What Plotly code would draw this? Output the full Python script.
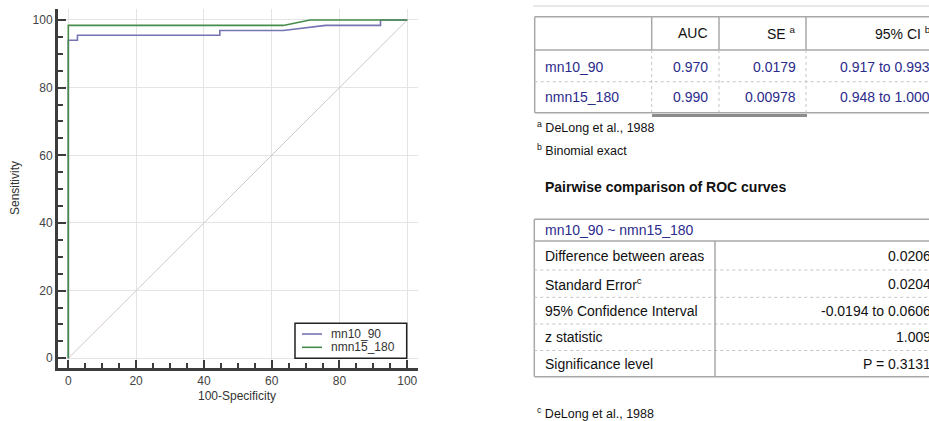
import plotly.graph_objects as go

W, H = 929, 421

# ---------------- data ----------------
diag_x = [0, 100]
diag_y = [0, 100]

series_names = ["mn10_90", "nmn15_180"]

mn10_fpr = [0, 0, 2.7, 2.7, 44.7, 44.7, 63.4, 75.9, 92.1, 92.1, 100]
mn10_sens = [0, 94.0, 94.0, 95.5, 95.5, 96.9, 96.9, 98.4, 98.4, 100, 100]

nmn15_fpr = [0, 0, 63.4, 71.3, 100]
nmn15_sens = [0, 98.4, 98.4, 100, 100]

axis_ticks = [0, 20, 40, 60, 80, 100]

t1_header = ["", "AUC", "SE <sup>a</sup>", "95% CI <sup>b</sup>"]
t1_rows = ["mn10_90", "nmn15_180"]
t1_auc = ["0.970", "0.990"]
t1_se = ["0.0179", "0.00978"]
t1_ci = ["0.917 to 0.993", "0.948 to 1.000"]
t1_notes = ["<sup>a</sup> DeLong et al., 1988", "<sup>b</sup> Binomial exact"]

t2_title = "Pairwise comparison of ROC curves"
t2_head = "mn10_90 ~ nmn15_180"
t2_labels = ["Difference between areas", "Standard Error<sup>c</sup>",
             "95% Confidence Interval", "z statistic", "Significance level"]
t2_values = ["0.0206", "0.0204", "-0.0194 to 0.0606", "1.009", "P = 0.3131"]
t2_note = "<sup>c</sup> DeLong et al., 1988"

FONT = "Liberation Sans, Arial, sans-serif"
BLUE = "#2b2b8c"
PURPLE = "#7474b4"
GREEN = "#468c4a"
AX = "#3c3c3c"


def px(x):
    return x / W


def py(y):
    return 1 - y / H


fig = go.Figure()
fig.add_trace(go.Scatter(x=diag_x, y=diag_y, mode="lines", showlegend=False,
                         line=dict(color="#d4c8c8", width=1), hoverinfo="skip"))
fig.add_trace(go.Scatter(x=mn10_fpr, y=mn10_sens, mode="lines", name=series_names[0],
                         showlegend=False, line=dict(color=PURPLE, width=1.6)))
fig.add_trace(go.Scatter(x=nmn15_fpr, y=nmn15_sens, mode="lines", name=series_names[1],
                         showlegend=False, line=dict(color=GREEN, width=1.6)))

common_axis = dict(
    showline=True, linecolor=AX, linewidth=3, zeroline=False,
    tickvals=axis_ticks, ticks="inside", ticklen=8, tickwidth=2, tickcolor=AX,
    minor=dict(dtick=5, ticks="inside", ticklen=5, tickwidth=1.5, tickcolor=AX, showgrid=False),
    showgrid=True, gridcolor="#e4e4e4", gridwidth=1,
    tickfont=dict(family=FONT, size=12, color="#444"),
)

fig.update_layout(
    width=W, height=H, autosize=False,
    margin=dict(l=0, r=0, t=0, b=0),
    paper_bgcolor="white", plot_bgcolor="white",
    font=dict(family=FONT, size=12, color="#333"),
    xaxis=dict(domain=[px(58), px(418)], range=[-3.04, 103.16], **common_axis),
    yaxis=dict(domain=[py(368), py(9)], range=[-2.87, 103.25], **common_axis),
    showlegend=False,
)

annotations = []
shapes = []


def text(x, y, s, anchor="left", size=14, color="#111", bold=False):
    if bold:
        s = "<b>" + s + "</b>"
    annotations.append(dict(x=px(x), y=py(y), xref="paper", yref="paper", text=s,
                            showarrow=False, xanchor=anchor, yanchor="middle",
                            font=dict(family=FONT, size=size, color=color)))


def line(x0, y0, x1, y1, color="#a8a8a8", width=1.5, dash="solid"):
    shapes.append(dict(type="line", xref="paper", yref="paper",
                       x0=px(x0), y0=py(y0), x1=px(x1), y1=py(y1),
                       line=dict(color=color, width=width, dash=dash)))


# legend box (drawn as a framed key)
shapes.append(dict(type="rect", xref="paper", yref="paper",
                   x0=px(295), y0=py(358.3), x1=px(406.7), y1=py(323.3),
                   line=dict(color="#222", width=1.5), fillcolor="white", layer="above"))
for yy, col, nm in [(334, PURPLE, series_names[0]), (347.3, GREEN, series_names[1])]:
    line(302, yy, 322, yy, color=col, width=1.6)
    text(329, yy, nm, size=12, color="#333")

# axis titles
annotations.append(dict(x=px(15), y=py(188), xref="paper", yref="paper", text="Sensitivity",
                        textangle=-90, showarrow=False, xanchor="center", yanchor="middle",
                        font=dict(family=FONT, size=12, color="#333")))
text(237, 396, "100-Specificity", anchor="center", size=12, color="#333")

# ---------- table 1 ----------
line(533, 6, 929, 6, color="#d0d0d0", width=1)
L1, R1 = 534.7, 935
cols1 = [651.7, 719, 806]
top1, hb1, rm1, bot1 = 16.7, 50, 81.7, 112.7
line(L1, top1, R1, top1)
line(L1, hb1, R1, hb1)
line(L1, top1, L1, bot1)
for c in cols1:
    line(c, top1, c, hb1)
    line(c, hb1, c, bot1, color="#c4c4c4", width=1, dash="dot")
line(L1, rm1, R1, rm1, color="#c4c4c4", width=1, dash="dot")
line(L1, bot1, R1, bot1)
line(652, 115.5, 807, 115.5, color="#8c8c8c", width=3)

text(710, 33, t1_header[1], anchor="right")
text(798, 33, t1_header[2], anchor="right")
text(933, 33, t1_header[3], anchor="right")
row_y1 = [66.7, 96.7]
for i, yy in enumerate(row_y1):
    text(543, yy, t1_rows[i], color=BLUE)
    text(710, yy, t1_auc[i], anchor="right", color=BLUE)
    text(798, yy, t1_se[i], anchor="right", color=BLUE)
    text(932, yy, t1_ci[i], anchor="right", color=BLUE)
text(535, 127, t1_notes[0], size=12.5, color="#111")
text(535, 150, t1_notes[1], size=12.5, color="#111")

# ---------- table 2 ----------
text(543, 187, t2_title, size=14, color="#111", bold=True)
L2, R2 = 534.3, 935
top2 = 219.3
rows2 = [241, 270, 297.3, 324, 350.5, 376.7]
line(L2, top2, R2, top2)
line(L2, top2, L2, rows2[-1])
line(L2, rows2[0], R2, rows2[0])
for yy in rows2[1:-1]:
    line(L2, yy, R2, yy, color="#c4c4c4", width=1, dash="dot")
line(L2, rows2[-1], R2, rows2[-1])
line(715, rows2[0], 715, rows2[-1])
text(543, 230, t2_head, color=BLUE)
for i in range(5):
    yc = (rows2[i] + rows2[i + 1]) / 2
    text(543, yc, t2_labels[i])
    text(933, yc, t2_values[i], anchor="right")
text(535, 413, t2_note, size=12.5, color="#111")

fig.update_layout(annotations=annotations, shapes=shapes)
fig.write_html("out.html")
